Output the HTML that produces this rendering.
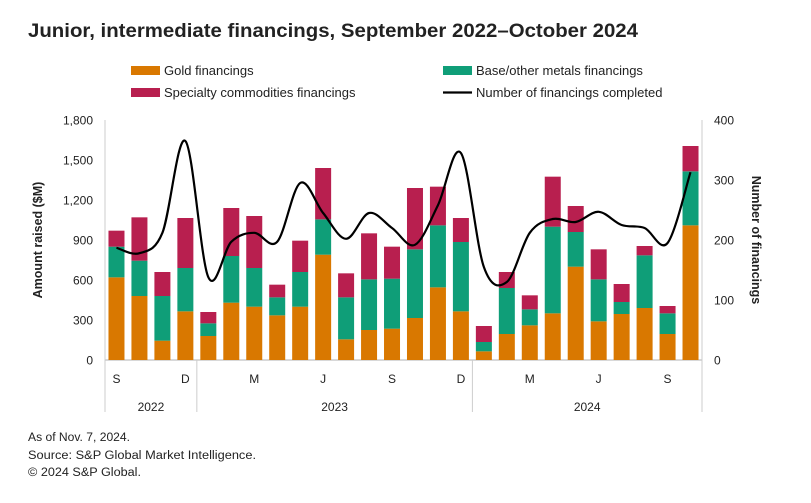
<!DOCTYPE html>
<html><head><meta charset="utf-8">
<style>
body{margin:0;background:#fff;width:811px;height:498px;overflow:hidden;font-family:"Liberation Sans",sans-serif;}
svg text{font-family:"Liberation Sans",sans-serif;fill:#222;}
</style></head><body>
<svg id="chart" width="811" height="498" xmlns="http://www.w3.org/2000/svg">
<text x="28" y="37" font-size="19" font-weight="bold" fill="#111" textLength="610" lengthAdjust="spacingAndGlyphs">Junior, intermediate financings, September 2022–October 2024</text>
<g font-size="13">
<g><rect x="131" y="66" width="29" height="9" fill="#d97800"/><text x="164" y="75">Gold financings</text></g>
<g><rect x="443" y="66" width="29" height="9" fill="#0f9e78"/><text x="476" y="75">Base/other metals financings</text></g>
<g><rect x="131" y="88" width="29" height="9" fill="#b81f4f"/><text x="164" y="97">Specialty commodities financings</text></g>
<g><line x1="443" y1="92.5" x2="472" y2="92.5" stroke="#000" stroke-width="2.2"/><text x="476" y="97">Number of financings completed</text></g>
</g>
<g id="axes"></g>
<g id="bars"></g>
<g id="line"></g>
<text transform="translate(42,240) rotate(-90)" text-anchor="middle" font-size="12.5" font-weight="bold">Amount raised ($M)</text>
<text transform="translate(752,240) rotate(90)" text-anchor="middle" font-size="12.5" font-weight="bold">Number of financings</text>
<g font-size="11.5">
<text x="28" y="441" textLength="102" lengthAdjust="spacingAndGlyphs">As of Nov. 7, 2024.</text>
<text x="28" y="459" textLength="228" lengthAdjust="spacingAndGlyphs">Source: S&amp;P Global Market Intelligence.</text>
<text x="28" y="476" textLength="113" lengthAdjust="spacingAndGlyphs">© 2024 S&amp;P Global.</text>
</g>
</svg>
<script>
const months=["S22","O22","N22","D22","J23","F23","M23","A23","M23","J23","J23","A23","S23","O23","N23","D23","J24","F24","M24","A24","M24","J24","J24","A24","S24","O24"];
const gold=[620,480,145,365,180,430,400,335,400,790,155,225,235,315,545,365,65,195,260,350,700,290,345,390,195,1010];
const base=[230,265,335,325,95,350,290,135,260,265,315,380,375,515,465,520,70,345,120,650,260,315,90,395,155,405];
const specialty=[120,325,180,375,85,360,390,95,235,385,180,345,240,460,290,180,120,120,105,375,195,225,135,70,55,190];
const counts=[187,178,212,365,138,197,212,197,295,245,202,245,220,192,258,345,155,130,212,235,230,247,225,220,195,313];
const leftTicks=[0,300,600,900,1200,1500,1800];
const leftTickLabels=["0","300","600","900","1,200","1,500","1,800"];
const rightTicks=[0,100,200,300,400];
const monthLabels=[[0,"S"],[3,"D"],[6,"M"],[9,"J"],[12,"S"],[15,"D"],[18,"M"],[21,"J"],[24,"S"]];
const years=[[0,3,"2022"],[4,15,"2023"],[16,25,"2024"]];

const NS="http://www.w3.org/2000/svg";
const X0=105,X1=702,Y0=360,Y1=120;
const step=(X1-X0)/months.length;
const xc=i=>X0+step*(i+0.5);
const yL=v=>Y0-(v/1800)*(Y0-Y1);
const yR=v=>Y0-(v/400)*(Y0-Y1);
function mk(t,a,p){const e=document.createElementNS(NS,t);for(const k in a)e.setAttribute(k,a[k]);p.appendChild(e);return e;}
const axes=document.getElementById('axes');
mk('line',{x1:X0,y1:Y1,x2:X0,y2:412,stroke:'#ccc','stroke-width':1},axes);
mk('line',{x1:X1,y1:Y1,x2:X1,y2:412,stroke:'#ccc','stroke-width':1},axes);
mk('line',{x1:X0,y1:Y0,x2:X1,y2:Y0,stroke:'#ccc','stroke-width':1.5},axes);
leftTicks.forEach((v,i)=>{const t=mk('text',{x:93,y:yL(v)+4.5,'text-anchor':'end','font-size':12},axes);t.textContent=leftTickLabels[i];

});
rightTicks.forEach(v=>{const t=mk('text',{x:714,y:yR(v)+4.5,'font-size':12},axes);t.textContent=v;

});
monthLabels.forEach(([i,l])=>{const t=mk('text',{x:xc(i),y:383,'text-anchor':'middle','font-size':12},axes);t.textContent=l;

});
years.forEach(([a,b,l],k)=>{const t=mk('text',{x:(X0+step*a+X0+step*(b+1))/2,y:411,'text-anchor':'middle','font-size':12},axes);t.textContent=l;


if(k>0){const ln=mk('line',{x1:X0+step*a,y1:Y0,x2:X0+step*a,y2:412,stroke:'#ccc'},axes);

}});
const bars=document.getElementById('bars');
const bw=16;
months.forEach((m,i)=>{let acc=0;[[gold,'#d97800','gold'],[base,'#0f9e78','base'],[specialty,'#b81f4f','specialty']].forEach(([arr,c,n])=>{
const v=arr[i];const r=mk('rect',{x:xc(i)-bw/2,y:yL(acc+v),width:bw,height:yL(acc)-yL(acc+v),fill:c},bars);


acc+=v;});});
const pts=counts.map((v,i)=>[xc(i),yR(v)]);
let d='M'+pts[0][0]+','+pts[0][1];
for(let i=0;i<pts.length-1;i++){const p0=pts[Math.max(0,i-1)],p1=pts[i],p2=pts[i+1],p3=pts[Math.min(pts.length-1,i+2)];
const c1=[p1[0]+(p2[0]-p0[0])/6,p1[1]+(p2[1]-p0[1])/6],c2=[p2[0]-(p3[0]-p1[0])/6,p2[1]-(p3[1]-p1[1])/6];
d+=' C'+c1[0]+','+c1[1]+' '+c2[0]+','+c2[1]+' '+p2[0]+','+p2[1];}
const path=mk('path',{d:d,fill:'none',stroke:'#000','stroke-width':2.2},document.getElementById('line'));


</script>
</body></html>
